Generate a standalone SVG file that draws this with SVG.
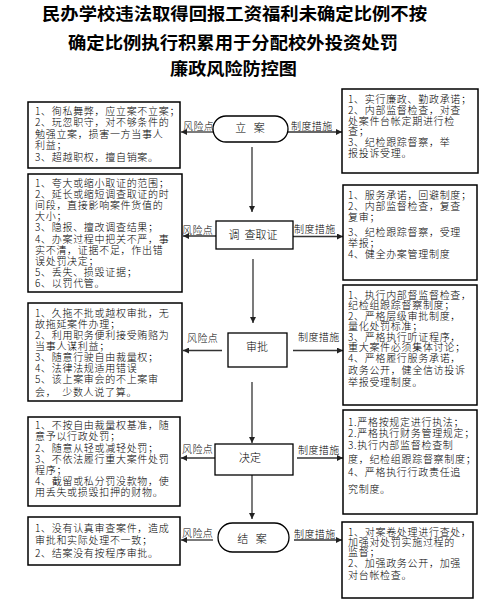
<svg xmlns="http://www.w3.org/2000/svg" width="485" height="607" viewBox="0 0 485 607">
<defs>
<marker id="ah" viewBox="0 0 10 10" refX="10" refY="5" markerWidth="8" markerHeight="6" orient="auto" markerUnits="userSpaceOnUse"><path d="M0,0 L10,5 L0,10 z" fill="#222"/></marker>
</defs>
<style>
text{font-family:"Noto Sans CJK SC","Noto Sans",sans-serif;fill:#000}
.title{font-size:17.5px;font-weight:bold;text-anchor:middle}
.t{font-size:10px;letter-spacing:0.7px;font-weight:300}
.lbl{font-size:10px;letter-spacing:0.4px;font-weight:300}
.n{font-size:11px;text-anchor:middle;font-weight:300}
.box{fill:#fff;stroke:#000;stroke-width:1.5}
.node{fill:#fff;stroke:#000;stroke-width:1.3}
.c{stroke:#333;stroke-width:1.3;fill:none;marker-end:url(#ah)}
</style>
<rect width="485" height="607" fill="#fff"/>
<g id="title">
<text class="title" x="234.5" y="20" textLength="385" lengthAdjust="spacingAndGlyphs">民办学校违法取得回报工资福利未确定比例不按</text>
<text class="title" x="233" y="48.5" textLength="330" lengthAdjust="spacingAndGlyphs">确定比例执行积累用于分配校外投资处罚</text>
<text class="title" x="233.5" y="75" textLength="127" lengthAdjust="spacingAndGlyphs">廉政风险防控图</text>
</g>

<g id="connectors">
<line class="c" x1="252" y1="147" x2="252" y2="212"/>
<line class="c" x1="253" y1="259" x2="253" y2="323"/>
<line class="c" x1="252" y1="382" x2="252" y2="443"/>
<line class="c" x1="252" y1="475" x2="252" y2="519"/>
<line class="c" x1="213" y1="132" x2="181" y2="132"/>
<line class="c" x1="288" y1="132" x2="342" y2="132"/>
<line class="c" x1="216" y1="236" x2="183" y2="236"/>
<line class="c" x1="293" y1="236.5" x2="343" y2="236.5"/>
<line class="c" x1="222" y1="350.5" x2="183" y2="350.5"/>
<line class="c" x1="293" y1="350.5" x2="343" y2="350.5"/>
<line class="c" x1="215" y1="458" x2="181" y2="458"/>
<line class="c" x1="297" y1="458" x2="343" y2="458"/>
<line class="c" x1="213" y1="540" x2="181" y2="540"/>
<line class="c" x1="294" y1="540" x2="342" y2="540"/>
<text class="lbl" x="183" y="129.5">风险点</text>
<text class="lbl" x="291" y="129.5">制度措施</text>
<text class="lbl" x="182" y="233.5">风险点</text>
<text class="lbl" x="294" y="233">制度措施</text>
<text class="lbl" x="187" y="342">风险点</text>
<text class="lbl" x="298" y="341">制度措施</text>
<text class="lbl" x="182" y="453">风险点</text>
<text class="lbl" x="298" y="454">制度措施</text>
<text class="lbl" x="182" y="537">风险点</text>
<text class="lbl" x="294" y="538">制度措施</text>
</g>

<g id="node-lian">
<rect class="node" x="213" y="116" width="75" height="26" rx="13"/>
<text class="n" x="250" y="132" xml:space="preserve">立   案</text>
</g>
<g id="node-diaocha">
<rect class="node" x="216" y="221" width="77" height="28"/>
<text class="n" x="253" y="239" xml:space="preserve">调  查取证</text>
</g>
<g id="node-shenpi">
<rect class="node" x="228" y="333" width="59" height="34"/>
<text class="n" x="257" y="351">审批</text>
</g>
<g id="node-jueding">
<rect class="node" x="215" y="444" width="78" height="31"/>
<text class="n" x="250" y="462">决定</text>
</g>
<g id="node-jiean">
<rect class="node" x="218" y="523" width="71" height="29" rx="14.5"/>
<text class="n" x="252" y="543" xml:space="preserve">结   案</text>
</g>

<g id="risk-1">
<rect class="box" x="28" y="102" width="152" height="66"/>
<text class="t"><tspan x="35" y="114.5">1、徇私舞弊，应立案不立案；</tspan><tspan x="35" y="126">2、玩忽职守，对不够条件的</tspan><tspan x="35" y="137.5">勉强立案，损害一方当事人</tspan><tspan x="35" y="149">利益；</tspan><tspan x="35" y="160.5">3、超越职权，擅自销案。</tspan></text>
</g>
<g id="risk-2">
<rect class="box" x="28" y="174" width="154" height="118"/>
<text class="t"><tspan x="35" y="186.5">1、夸大或缩小取证的范围；</tspan><tspan x="35" y="197.7">2、延长或缩短调查取证的时</tspan><tspan x="35" y="208.9">间段，直接影响案件货值的</tspan><tspan x="35" y="220.1">大小；</tspan><tspan x="35" y="231.3">3、隐报、擅改调查结果；</tspan><tspan x="35" y="242.5">4、办案过程中把关不严，事</tspan><tspan x="35" y="253.7">实不清，证据不足，作出错</tspan><tspan x="35" y="264.9">误处罚决定；</tspan><tspan x="35" y="276.1">5、丢失、损毁证据；</tspan><tspan x="35" y="287.3">6、以罚代管。</tspan></text>
</g>
<g id="risk-3">
<rect class="box" x="28" y="303" width="154" height="98"/>
<text class="t" xml:space="preserve"><tspan x="35" y="317">1、久拖不批或越权审批，无</tspan><tspan x="35" y="328">故拖延案件办理；</tspan><tspan x="35" y="339">2、利用职务便利接受贿赂为</tspan><tspan x="35" y="350">当事人谋利益；</tspan><tspan x="35" y="361">3、随意行驶自由裁量权；</tspan><tspan x="35" y="371.5">4、法律法规适用错误</tspan><tspan x="35" y="383">5、该上案审会的不上案审</tspan><tspan x="35" y="396">会，  少数人说了算。</tspan></text>
</g>
<g id="risk-4">
<rect class="box" x="28" y="417" width="152" height="89"/>
<text class="t"><tspan x="35" y="429">1、不按自由裁量权基准，随</tspan><tspan x="35" y="440">意予以行政处罚；</tspan><tspan x="35" y="451.5">2、随意从轻或减轻处罚；</tspan><tspan x="35" y="462.5">3、不依法履行重大案件处罚</tspan><tspan x="35" y="473.5">程序；</tspan><tspan x="35" y="484.5">4、截留或私分罚没款物，使</tspan><tspan x="35" y="495.5">用丢失或损毁扣押的财物。</tspan></text>
</g>
<g id="risk-5">
<rect class="box" x="28" y="517" width="152" height="48"/>
<text class="t"><tspan x="35" y="531.5">1、没有认真审查案件，造成</tspan><tspan x="35" y="544">审批和实际处理不一致；</tspan><tspan x="35" y="556.5">2、结案没有按程序审批。</tspan></text>
</g>

<g id="measure-1">
<rect class="box" x="342" y="89" width="136" height="84"/>
<text class="t"><tspan x="348" y="103">1、实行廉政、勤政承诺；</tspan><tspan x="348" y="113.8">2、内部监督检查，对查</tspan><tspan x="348" y="124.6">处案件台帐定期进行检</tspan><tspan x="348" y="135.4">查；</tspan><tspan x="348" y="146.2">3、纪检跟踪督察，举</tspan><tspan x="348" y="157">报投诉受理。</tspan></text>
</g>
<g id="measure-2">
<rect class="box" x="343" y="185" width="134" height="95"/>
<text class="t"><tspan x="348" y="199">1、服务承诺，回避制度；</tspan><tspan x="348" y="210">2、内部监督检查，复查</tspan><tspan x="348" y="220.7">复审；</tspan><tspan x="348" y="235.7">3、纪检跟踪督察，受理</tspan><tspan x="348" y="246.7">举报；</tspan><tspan x="348" y="257.5">4、健全办案管理制度</tspan></text>
</g>
<g id="measure-3">
<rect class="box" x="343" y="285" width="134" height="120"/>
<text class="t"><tspan x="348" y="299">1、执行内部督监督检查，</tspan><tspan x="348" y="309">纪检组跟踪督察制度；</tspan><tspan x="348" y="319.7">2、严格层级审批制度，</tspan><tspan x="348" y="329.7">量化处罚标准；</tspan><tspan x="348" y="340.7">3、严格执行听证程序，</tspan><tspan x="348" y="350.7">重大案件必须集体讨论；</tspan><tspan x="348" y="361.7">4、严格履行服务承诺，</tspan><tspan x="348" y="374">政务公开，健全信访投诉</tspan><tspan x="348" y="385.7">举报受理制度。</tspan></text>
</g>
<g id="measure-4">
<rect class="box" x="343" y="410" width="134" height="104"/>
<text class="t"><tspan x="348" y="425.7">1.严格按规定进行执法；</tspan><tspan x="348" y="436.7">2.严格执行财务管理规定；</tspan><tspan x="348" y="449">3.执行内部监督检查制</tspan><tspan x="348" y="463.3">度，纪检组跟踪督察制度；</tspan><tspan x="348" y="475.7">4、严格执行行政责任追</tspan><tspan x="348" y="493.3">究制度。</tspan></text>
</g>
<g id="measure-5">
<rect class="box" x="342" y="522" width="131" height="76"/>
<text class="t"><tspan x="348" y="535.7">1、对案卷处理进行查处，</tspan><tspan x="348" y="545.7">加强对处罚实施过程的</tspan><tspan x="348" y="555.7">监督；</tspan><tspan x="348" y="567.3">2、加强政务公开，加强</tspan><tspan x="348" y="579">对台帐检查。</tspan></text>
</g>
</svg>
